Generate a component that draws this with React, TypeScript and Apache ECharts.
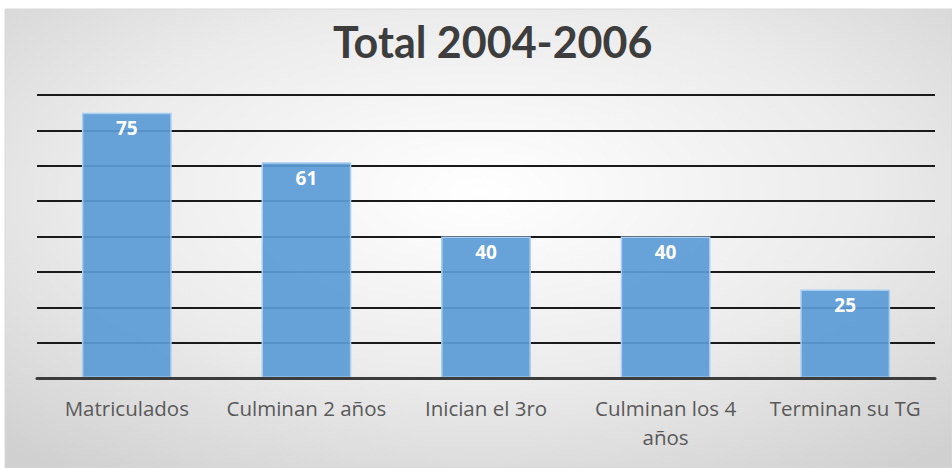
import React, { useEffect, useRef } from "react";
import * as echarts from "echarts";

const categories = ["Matriculados", "Culminan 2 años", "Inician el 3ro", "Culminan los 4\naños", "Terminan su TG"];
const values = [75, 61, 40, 40, 25];
const titleText = "Total 2004-2006";

export default function App() {
  const ref = useRef<HTMLDivElement>(null);
  useEffect(() => {
    if (!ref.current) return;
    const chart = echarts.init(ref.current, null, { renderer: "svg" });
    chart.setOption({
      animation: false,
      backgroundColor: "#ffffff",
      graphic: [
        {
          type: "rect",
          z: -10,
          silent: true,
          shape: { x: 5, y: 9, width: 947, height: 459 },
          style: {
            fill: new echarts.graphic.RadialGradient(0.5, 0.4, 0.75, [
              { offset: 0, color: "#ffffff" },
              { offset: 0.55, color: "#ebebeb" },
              { offset: 1, color: "#d0d0d0" },
            ]),
            stroke: "#d9d9d9",
            lineWidth: 1,
          },
        },
      ],
      title: {
        text: titleText,
        left: 328,
        top: 15,
        textStyle: { fontFamily: "Lato", fontWeight: "bold", fontSize: 43, color: "#3d3d3d" },
      },
      grid: { left: 37, right: 17, top: 95, bottom: 90, containLabel: false },
      xAxis: {
        type: "category",
        data: categories,
        axisLine: { show: true, lineStyle: { color: "#3c3c3c", width: 3 } },
        axisTick: { show: false },
        axisLabel: {
          color: "#595959",
          fontFamily: "Open Sans",
          fontSize: 20.5,
          margin: 15,
          lineHeight: 29,
          interval: 0,
        },
        z: 5,
      },
      yAxis: {
        type: "value",
        min: 0,
        max: 80,
        interval: 10,
        axisLabel: { show: false },
        axisLine: { show: false },
        axisTick: { show: false },
        splitLine: { show: true, lineStyle: { color: "#1a1a1a", width: 2 } },
      },
      series: [
        {
          type: "bar",
          data: values,
          barWidth: "50%",
          itemStyle: { color: "rgba(91,155,213,0.93)", borderColor: "#a9cdef", borderWidth: 1.5 },
          label: {
            show: true,
            position: "insideTop",
            distance: 6,
            color: "#ffffff",
            fontFamily: "Open Sans",
            fontWeight: "bold",
            fontSize: 19,
          },
        },
      ],
    });
    return () => chart.dispose();
  }, []);
  return <div ref={ref} style={{ position: "fixed", left: 0, top: 0, width: 952, height: 468 }} />;
}
